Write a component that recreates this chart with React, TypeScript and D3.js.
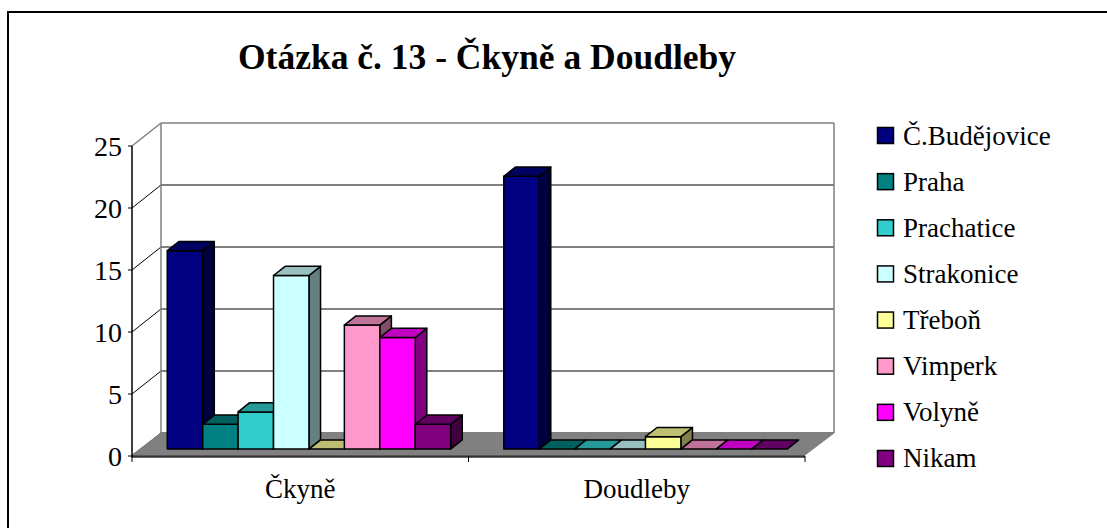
import React from "react";
import * as d3 from "d3";

const categories = ["Čkyně", "Doudleby"];
const seriesNames = ["Č.Budějovice", "Praha", "Prachatice", "Strakonice", "Třeboň", "Vimperk", "Volyně", "Nikam"];
const values: number[][] = [
  [16, 2, 3, 14, 0, 10, 9, 2],
  [22, 0, 0, 0, 1, 0, 0, 0],
];
const yTicks = [0, 5, 10, 15, 20, 25];
const frontColors = ["#000080", "#008080", "#33CCCC", "#CCFFFF", "#FFFF99", "#FF99CC", "#FF00FF", "#800080"];
const title = "Otázka č. 13 - Čkyně a Doudleby";

const FONT = "Liberation Serif";

function shade(c: string, k: number) {
  const rgb = d3.rgb(c);
  return d3.rgb(rgb.r * k, rgb.g * k, rgb.b * k).formatHex();
}

export default function App() {
  const x0 = 132, x1 = 805;
  const DX = 29, DY = -23;
  const y = d3.scaleLinear().domain([0, 25]).range([456, 146]);
  const xBand = d3.scaleBand<string>().domain(categories).range([x0, x1]).padding(0);
  const bw = xBand.bandwidth();
  const groupOffset = (bw * 0.75) / 9.5;
  const inner = d3.scaleBand<string>().domain(seriesNames).range([0, (bw * 8) / 9.5]).padding(0);
  const barW = inner.bandwidth();
  const fShift = 0.3, bShift = 0.7;
  const fx = DX * fShift, fy = DY * fShift;
  const ddx = DX * (bShift - fShift), ddy = DY * (bShift - fShift);

  const pts = (arr: number[][]) => arr.map((p) => p.join(",")).join(" ");

  const bars: React.ReactNode[] = [];
  categories.forEach((cat, ci) => {
    seriesNames.forEach((s, si) => {
      const v = values[ci][si];
      const left = (xBand(cat) as number) + groupOffset + (inner(s) as number) + fx;
      const right = left + barW;
      const bot = y(0) + fy;
      const top = y(v) + fy;
      const col = frontColors[si];
      const key = `${ci}-${si}`;
      bars.push(
        <g key={key} stroke="#000" strokeWidth={1.5} strokeLinejoin="round">
          {v > 0 && (
            <polygon
              points={pts([[right, top], [right + ddx, top + ddy], [right + ddx, bot + ddy], [right, bot]])}
              fill={shade(col, 0.5)}
            />
          )}
          {v > 0 && <rect x={left} y={top} width={barW} height={bot - top} fill={col} />}
          <polygon
            points={pts([[left, top], [right, top], [right + ddx, top + ddy], [left + ddx, top + ddy]])}
            fill={shade(col, 0.75)}
          />
        </g>
      );
    });
  });

  return (
    <svg width={1107} height={528} style={{ position: "absolute", left: 0, top: 0, background: "#fff", fontFamily: "'Liberation Serif', Tinos, serif" }}>
      <rect x={8} y={12} width={1120} height={540} fill="#fff" stroke="#000" strokeWidth={2} />
      <text x={487} y={69} textAnchor="middle" fontWeight="bold" fontSize={35.5}>
        {title}
      </text>

      {/* walls */}
      {yTicks.map((t) => (
        <g key={"g" + t}>
          <line x1={x0 + DX} x2={x1 + DX} y1={y(t) + DY} y2={y(t) + DY} stroke={t === 25 ? "#808080" : "#000"} strokeWidth={t === 25 ? 1.5 : 1} />
          <line x1={x0} x2={x0 + DX} y1={y(t)} y2={y(t) + DY} stroke={t === 25 ? "#808080" : "#000"} strokeWidth={t === 25 ? 1.5 : 1} />
        </g>
      ))}
      <line x1={x0 + DX} x2={x0 + DX} y1={y(25) + DY} y2={y(0) + DY} stroke="#808080" strokeWidth={1.5} />
      <line x1={x1 + DX} x2={x1 + DX} y1={y(25) + DY} y2={y(0) + DY} stroke="#808080" strokeWidth={1.5} />

      {/* floor */}
      <polygon
        points={pts([[x0, y(0) - 1], [x0 + DX, y(0) + DY], [x1 + DX, y(0) + DY], [x1, y(0) - 1]])}
        fill="#808080"
        stroke="#808080"
        strokeWidth={1}
      />
      <line x1={x0} x2={x1} y1={y(0) + 0.5} y2={y(0) + 0.5} stroke="#333" strokeWidth={2.5} />

      {bars}

      {/* y axis */}
      <line x1={x0} x2={x0} y1={y(25)} y2={y(0) + 1.5} stroke="#000" strokeWidth={1.5} />
      {yTicks.map((t) => (
        <g key={"t" + t}>
          <line x1={x0 - 4} x2={x0} y1={y(t)} y2={y(t)} stroke="#000" strokeWidth={1} />
          <text x={122} y={y(t) + 10} textAnchor="end" style={{ fontFamily: "Tinos" }} fontSize={28}>
            {t}
          </text>
        </g>
      ))}

      {/* x axis ticks and labels */}
      {[x0, ...categories.map((c) => (xBand(c) as number) + bw)].map((xx, i) => (
        <line key={"xt" + i} x1={xx} x2={xx} y1={y(0)} y2={y(0) + 6} stroke="#000" strokeWidth={1} />
      ))}
      {categories.map((c) => (
        <text key={c} x={(xBand(c) as number) + bw / 2} y={498} textAnchor="middle" fontSize={27}>
          {c}
        </text>
      ))}

      {/* legend */}
      {seriesNames.map((s, i) => {
        const cy = 135.5 + i * 46.14;
        return (
          <g key={s}>
            <rect x={877.5} y={cy - 8} width={16} height={16} fill={frontColors[i]} stroke="#000" strokeWidth={1.5} />
            <text x={903} y={cy + 9} fontFamily="serif" fontSize={27}>
              {s}
            </text>
          </g>
        );
      })}
    </svg>
  );
}
